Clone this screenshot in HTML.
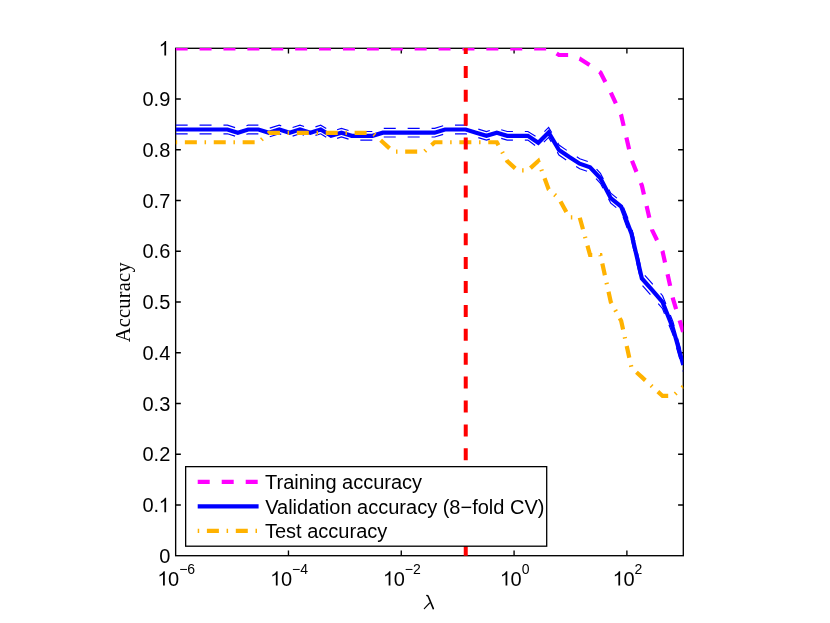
<!DOCTYPE html>
<html><head><meta charset="utf-8"><title>Accuracy vs lambda</title>
<style>html,body{margin:0;padding:0;background:#fff}body{width:830px;height:623px;overflow:hidden;position:relative;font-family:"Liberation Sans",sans-serif}</style></head>
<body>
<svg width="830" height="623" viewBox="0 0 830 623" style="position:absolute;left:0;top:0;will-change:transform">
<defs><clipPath id="c"><rect x="175.65" y="48" width="507.65" height="507.70000000000005"/></clipPath></defs>
<rect width="830" height="623" fill="#fff"/>
<g stroke="#000" stroke-width="1.35" fill="none">
<rect x="175.65" y="48.3" width="507.65" height="507.40000000000003"/>
<path d="M175.65,504.96h5.2 M683.3,504.96h-5.2"/>
<path d="M175.65,454.22h5.2 M683.3,454.22h-5.2"/>
<path d="M175.65,403.48h5.2 M683.3,403.48h-5.2"/>
<path d="M175.65,352.74h5.2 M683.3,352.74h-5.2"/>
<path d="M175.65,302.00h5.2 M683.3,302.00h-5.2"/>
<path d="M175.65,251.26h5.2 M683.3,251.26h-5.2"/>
<path d="M175.65,200.52h5.2 M683.3,200.52h-5.2"/>
<path d="M175.65,149.78h5.2 M683.3,149.78h-5.2"/>
<path d="M175.65,99.04h5.2 M683.3,99.04h-5.2"/>
<path d="M288.46,555.7v-5.2 M288.46,48.3v5.2"/>
<path d="M401.27,555.7v-5.2 M401.27,48.3v5.2"/>
<path d="M514.08,555.7v-5.2 M514.08,48.3v5.2"/>
<path d="M626.89,555.7v-5.2 M626.89,48.3v5.2"/>
</g>
<g clip-path="url(#c)" fill="none" stroke-linejoin="miter" stroke-miterlimit="10">
<path d="M175.65,48.40 L186.01,48.40 L196.37,48.40 L206.73,48.40 L217.09,48.40 L227.45,48.40 L237.81,48.40 L248.17,48.40 L258.53,48.40 L268.89,48.40 L279.25,48.40 L289.61,48.40 L299.97,48.40 L310.33,48.40 L320.69,48.40 L331.05,48.40 L341.41,48.40 L351.77,48.40 L362.13,48.40 L372.49,48.40 L382.85,48.40 L393.21,48.40 L403.57,48.40 L413.93,48.40 L424.29,48.40 L434.66,48.40 L445.02,48.40 L455.38,48.40 L465.74,48.40 L476.10,48.40 L486.46,48.40 L496.82,48.40 L507.18,48.40 L517.54,48.40 L527.90,48.40 L538.26,48.40 L548.62,48.40 L558.98,55.00 L569.34,55.00 L579.70,58.70 L590.06,65.30 L600.42,72.50 L610.78,92.40 L621.14,115.00 L631.50,159.40 L641.86,185.50 L652.22,230.30 L662.58,251.50 L672.94,298.60 L683.30,332.50" stroke="#ff00ff" stroke-width="4.2" stroke-dasharray="12 11.9"/>
<path d="M175.65,129.50 L186.01,129.50 L196.37,129.50 L206.73,129.50 L217.09,129.50 L227.45,129.50 L237.81,132.70 L248.17,129.50 L258.53,129.50 L268.89,132.70 L279.25,129.50 L289.61,132.70 L299.97,129.50 L310.33,132.70 L320.69,129.50 L331.05,135.80 L341.41,132.70 L351.77,135.80 L362.13,135.80 L372.49,135.80 L382.85,132.70 L393.21,132.70 L403.57,132.70 L413.93,132.70 L424.29,132.70 L434.66,132.70 L445.02,129.50 L455.38,129.50 L465.74,129.50 L476.10,132.70 L486.46,135.80 L496.82,132.70 L507.18,135.80 L517.54,135.80 L527.90,135.80 L538.26,142.80 L548.62,132.40 L558.98,150.00 L569.34,157.10 L579.70,163.70 L590.06,167.30 L600.42,178.30 L610.78,198.20 L621.14,206.50 L631.50,233.70 L641.86,278.40 L652.22,290.20 L662.58,302.20 L672.94,328.30 L683.30,365.00" stroke="#0000ff" stroke-width="4.2"/>
<path d="M175.65,125.20 L186.01,125.20 L196.37,125.20 L206.73,125.20 L217.09,125.20 L227.45,125.20 L237.81,128.40 L248.17,125.20 L258.53,125.20 L268.89,128.40 L279.25,125.20 L289.61,128.40 L299.97,125.20 L310.33,128.40 L320.69,125.20 L331.05,131.50 L341.41,128.40 L351.77,131.50 L362.13,131.50 L372.49,131.50 L382.85,128.40 L393.21,128.40 L403.57,128.40 L413.93,128.40 L424.29,128.40 L434.66,128.40 L445.02,125.20 L455.38,125.20 L465.74,125.20 L476.10,128.40 L486.46,131.50 L496.82,128.40 L507.18,131.50 L517.54,131.50 L527.90,131.50 L538.26,137.80 L548.62,127.40 L558.98,145.00 L569.34,152.10 L579.70,158.70 L590.06,162.30 L600.42,173.30 L610.78,193.20 L621.14,201.50 L631.50,227.20 L641.86,271.90 L652.22,283.70 L662.58,295.70 L672.94,321.80 L683.30,358.50" stroke="#0000ff" stroke-width="1.2" stroke-dasharray="12 11.9"/>
<path d="M175.65,133.80 L186.01,133.80 L196.37,133.80 L206.73,133.80 L217.09,133.80 L227.45,133.80 L237.81,137.00 L248.17,133.80 L258.53,133.80 L268.89,137.00 L279.25,133.80 L289.61,137.00 L299.97,133.80 L310.33,137.00 L320.69,133.80 L331.05,140.10 L341.41,137.00 L351.77,140.10 L362.13,140.10 L372.49,140.10 L382.85,137.00 L393.21,137.00 L403.57,137.00 L413.93,137.00 L424.29,137.00 L434.66,137.00 L445.02,133.80 L455.38,133.80 L465.74,133.80 L476.10,137.00 L486.46,140.10 L496.82,137.00 L507.18,140.10 L517.54,140.10 L527.90,140.10 L538.26,147.80 L548.62,137.40 L558.98,155.00 L569.34,162.10 L579.70,168.70 L590.06,172.30 L600.42,183.30 L610.78,203.20 L621.14,211.50 L631.50,240.20 L641.86,284.90 L652.22,296.70 L662.58,308.70 L672.94,334.80 L683.30,371.50" stroke="#0000ff" stroke-width="1.2" stroke-dasharray="12 11.9"/>
<path d="M175.65,142.26 L186.01,142.26 L196.37,142.26 L206.73,142.26 L217.09,142.26 L227.45,142.26 L237.81,142.26 L248.17,142.26 L258.53,142.26 L268.89,132.87 L279.25,132.87 L289.61,132.87 L299.97,132.87 L310.33,132.87 L320.69,132.87 L331.05,132.87 L341.41,132.87 L351.77,132.87 L362.13,132.87 L372.49,132.87 L382.85,142.26 L393.21,151.66 L403.57,151.66 L413.93,151.66 L424.29,151.66 L434.66,142.26 L445.02,142.26 L455.38,142.26 L465.74,142.26 L476.10,142.26 L486.46,142.26 L496.82,142.26 L507.18,161.06 L517.54,170.45 L527.90,170.45 L538.26,161.06 L548.62,189.24 L558.98,198.64 L569.34,217.43 L579.70,217.43 L590.06,255.02 L600.42,255.02 L610.78,302.00 L621.14,320.79 L631.50,367.77 L641.86,377.17 L652.22,386.57 L662.58,395.96 L672.94,395.96 L683.30,386.57" stroke="#ffb200" stroke-width="4.2" stroke-dasharray="1.5 7.7 12 7.7"/>
<path d="M465.74,42 L465.74,560" stroke="#ff0000" stroke-width="4" stroke-dasharray="12 11.9"/>
</g>
<defs><path id="one" d="M7.45,0.00 L5.69,0.00 L5.69,-11.20 Q5.06,-10.60 4.03,-9.99 Q3.00,-9.38 2.18,-9.08 L2.18,-10.78 Q3.65,-11.47 4.76,-12.46 Q5.86,-13.45 6.32,-14.38 L7.45,-14.38 Z"/></defs>
<g font-family="Liberation Sans, sans-serif" font-size="20" fill="#000">
<text x="170.3" y="562.90" text-anchor="end">0</text>
<text x="159.18" y="512.16" text-anchor="end">0.</text>
<use href="#one" x="158.68" y="512.16"/>
<text x="170.3" y="461.42" text-anchor="end">0.2</text>
<text x="170.3" y="410.68" text-anchor="end">0.3</text>
<text x="170.3" y="359.94" text-anchor="end">0.4</text>
<text x="170.3" y="309.20" text-anchor="end">0.5</text>
<text x="170.3" y="258.46" text-anchor="end">0.6</text>
<text x="170.3" y="207.72" text-anchor="end">0.7</text>
<text x="170.3" y="156.98" text-anchor="end">0.8</text>
<text x="170.3" y="106.24" text-anchor="end">0.9</text>
<use href="#one" x="158.68" y="55.50"/>
<use href="#one" x="157.35" y="585.6"/>
<text x="168.07" y="585.6">0<tspan font-size="14" dy="-12">−6</tspan></text>
<use href="#one" x="270.16" y="585.6"/>
<text x="280.88" y="585.6">0<tspan font-size="14" dy="-12">−4</tspan></text>
<use href="#one" x="382.97" y="585.6"/>
<text x="393.69" y="585.6">0<tspan font-size="14" dy="-12">−2</tspan></text>
<use href="#one" x="499.87" y="585.6"/>
<text x="510.59" y="585.6">0<tspan font-size="14" dy="-12">0</tspan></text>
<use href="#one" x="612.68" y="585.6"/>
<text x="623.40" y="585.6">0<tspan font-size="14" dy="-12">2</tspan></text>
</g>
<text transform="translate(130,302.2) rotate(-90)" font-family="Liberation Serif, serif" font-size="20.4" letter-spacing="0.25" text-anchor="middle" fill="#000">Accuracy</text>
<g stroke="#000" fill="none" stroke-linecap="round"><path d="M426.9,595.5 Q428.0,595.4 428.6,597.3 L433.3,608.6" stroke-width="1.6"/><path d="M429.6,603.0 L424.3,608.6" stroke-width="1.1"/></g>
<rect x="185.65" y="466.65" width="361.05" height="79.55" fill="#fff" stroke="#000" stroke-width="1.3"/>
<path d="M197.7,481.8H258.4" stroke="#ff00ff" stroke-width="4.2" stroke-dasharray="12 12" fill="none"/>
<path d="M197.7,506.4H258.6" stroke="#0000ff" stroke-width="4.2" fill="none"/>
<path d="M197.7,530.8H257" stroke="#ffb200" stroke-width="4.2" stroke-dasharray="1.5 7.7 12 7.7" fill="none"/>
<g font-family="Liberation Sans, sans-serif" font-size="20" fill="#000">
<text x="265.0" y="489.0">Training accuracy</text>
<text x="265.2" y="513.6">Validation accuracy (8−fold CV)</text>
<text x="265.0" y="538.0">Test accuracy</text>
</g>
</svg>
</body></html>
